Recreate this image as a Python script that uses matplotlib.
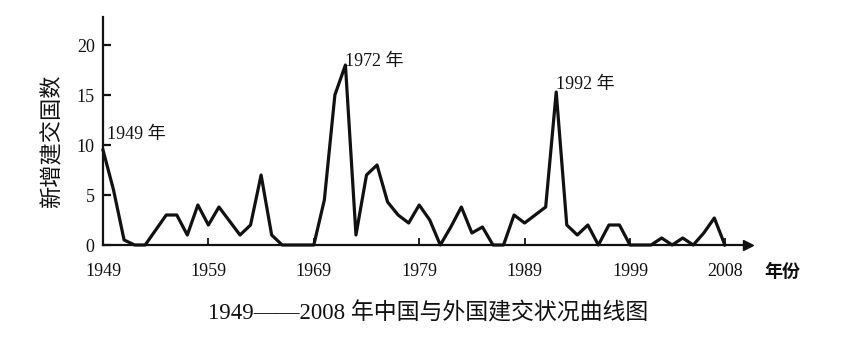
import matplotlib
matplotlib.use("Agg")
import matplotlib.pyplot as plt

# values, one per year
years = list(range(1949, 2009))
counts = [
    9.5, 5.5, 0.5, 0, 0, 1.5, 3, 3, 1, 4,    # 1949-1958
    2, 3.8, 2.4, 1, 2, 7, 1, 0, 0, 0,        # 1959-1968
    0, 4.5, 15, 18, 1, 7, 8, 4.3, 3, 2.2,    # 1969-1978
    4, 2.5, 0, 1.8, 3.8, 1.2, 1.8, 0, 0, 3,  # 1979-1988
    2.2, 3, 3.8, 15.3, 2, 1, 2, 0, 2, 2,     # 1989-1998
    0, 0, 0, 0.7, 0, 0.7, 0, 1.2, 2.7, 0,    # 1999-2008
]
xtick_years = [1949, 1959, 1969, 1979, 1989, 1999, 2008]
ytick_values = [0, 5, 10, 15, 20]
peak_years = [1949, 1972, 1992]
peak_labels = ["1949 年", "1972 年", "1992 年"]
peak_offsets = [(3, 8), (0, -1), (0, 2)]

title = "1949——2008 年中国与外国建交状况曲线图"
ylabel = "新增建交国数"
xunit = "年份"


def plot():
    plt.rcParams["font.family"] = ["Liberation Serif", "Noto Sans CJK SC"]

    fig = plt.figure(figsize=(8.6, 3.38), dpi=100)
    ax = fig.add_axes([103 / 860, 1 - 245 / 338, (748 - 103) / 860, 228 / 338])

    ax.plot(years, counts, color="#111111", linewidth=2.3,
            solid_joinstyle="round", clip_on=False, zorder=3)

    ax.set_xlim(1949, 1949 + (748 - 103) / 10.54)
    ax.set_ylim(0, 22.8)

    for side in ["top", "right"]:
        ax.spines[side].set_visible(False)
    for side in ["left", "bottom"]:
        ax.spines[side].set_linewidth(1.6)
        ax.spines[side].set_color("#111111")

    # axis arrows
    ax.plot(1, 0, ">", color="#111111", markersize=7,
            transform=ax.get_yaxis_transform(), clip_on=False)
    ax.plot(0, 1, "^", color="#111111", markersize=7,
            transform=ax.get_xaxis_transform(), clip_on=False)

    ax.set_xticks(xtick_years)
    ax.set_xticklabels([str(y) for y in xtick_years])
    ax.set_yticks(ytick_values)
    ax.set_yticklabels([str(v) for v in ytick_values])
    ax.tick_params(axis="y", direction="in", length=6, width=1.6,
                   pad=6, labelsize=13, colors="#111111")
    ax.tick_params(axis="x", direction="in", length=5, width=1.3,
                   pad=13, labelsize=13, colors="#111111")

    for year, label, off in zip(peak_years, peak_labels, peak_offsets):
        ax.annotate(label, xy=(year, counts[years.index(year)]),
                    xytext=off, textcoords="offset points",
                    ha="left", va="baseline", fontsize=13, color="#111111")

    fig.text(53 / 860, 1 - 141 / 338, ylabel, rotation=90,
             ha="center", va="center", fontsize=16, color="#111111")
    fig.text(782 / 860, 1 - 272 / 338, xunit, fontweight="bold",
             ha="center", va="center", fontsize=13, color="#111111")
    fig.text(428 / 860, 1 - 313 / 338, title,
             ha="center", va="center", fontsize=16.5, color="#111111")

    fig.savefig("out.png", dpi=100, facecolor="white")
    plt.close(fig)


plot()
